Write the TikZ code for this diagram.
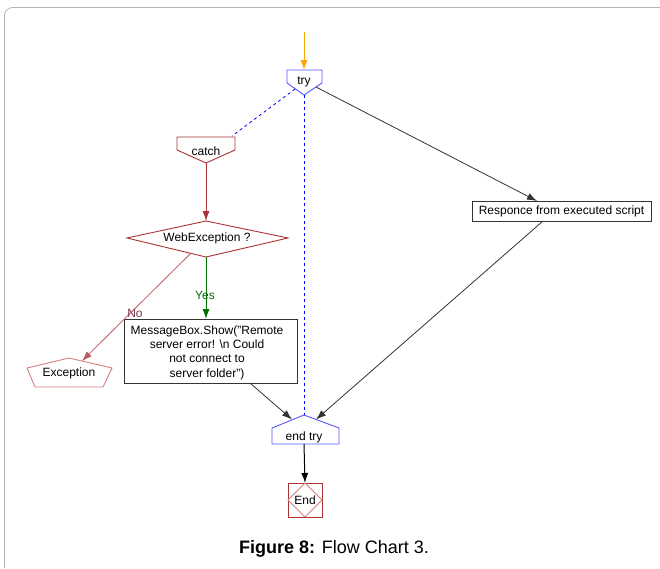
\documentclass[tikz,border=0pt]{standalone}
\usepackage{fontspec}
\setmainfont{Liberation Sans}
\usetikzlibrary{arrows.meta}
\definecolor{tryblue}{RGB}{85,85,255}
\definecolor{catchred}{RGB}{170,50,50}
\definecolor{palered}{RGB}{215,125,125}
\definecolor{yesgreen}{RGB}{0,110,0}
\definecolor{nolabel}{RGB}{120,55,80}
\definecolor{framegray}{RGB}{180,180,180}
\definecolor{startorange}{RGB}{255,165,0}

\begin{document}
\begin{tikzpicture}[x=1pt,y=-1pt,
    txt/.style={font=\fontsize{12}{14.3}\selectfont,inner sep=0pt},
    tip/.style={-{Latex[length=10pt,width=7pt]}},
    blueshape/.style={draw=tryblue,line width=0.9pt},
    redshape/.style={draw=catchred,line width=0.9pt},
    boxshape/.style={draw=black!80,line width=1pt}]
  \useasboundingbox (0,0) rectangle (660,568);
  \draw[framegray,line width=0.8pt,rounded corners=8pt] (4.5,568) -- (4.5,7.5) -- (660,7.5);

  \coordinate (start) at (304,32);
  \coordinate (try-in) at (304,70);
  \coordinate (try-out) at (304,95);
  \coordinate (try-left) at (295,89);
  \coordinate (try-right) at (316,87);
  \draw[blueshape] (287,70) -- (322,70) -- (322,83) -- (try-out) -- (287,83) -- cycle;
  \node[txt] (try) at (304,82) {try};

  \coordinate (catch-in) at (232,136);
  \coordinate (catch-out) at (206,163);
  \draw[redshape] (177,137) -- (235,137) -- (235,150) -- (catch-out) -- (177,150) -- cycle;
  \node[txt] (catch) at (206,151) {catch};

  \coordinate (web-top) at (206,221);
  \coordinate (web-bot) at (206,257);
  \coordinate (web-no) at (191,253);
  \draw[redshape] (127,238) -- (web-top) -- (288,238) -- (web-bot) -- cycle;
  \node[txt] (web) at (207,238) {WebException ?};

  \coordinate (exc-in) at (82,361);
  \draw[redshape,draw=palered] (69,358) -- (112,368) -- (103,387) -- (35,387) -- (27,368) -- cycle;
  \node[txt] (exc) at (69,373) {Exception};

  \draw[boxshape] (124,319) rectangle (297,383);
  \node[txt,align=center,font=\fontsize{12}{14.4}\selectfont] (msg) at (207,352.5)
    {MessageBox.Show("Remote\\server error! \textbackslash n Could\\not connect to\\server folder")};
  \coordinate (msg-in) at (206,319);
  \coordinate (msg-out) at (250,383);

  \draw[boxshape] (472,201) rectangle (651,221);
  \node[txt] (resp) at (561.5,211) {Responce from executed script};
  \coordinate (resp-in) at (537,201);
  \coordinate (resp-out) at (543,221);

  \coordinate (end-top) at (304,415);
  \coordinate (end-left) at (292,419.5);
  \coordinate (end-right) at (316,419.5);
  \coordinate (end-out) at (304,444);
  \draw[blueshape] (end-top) -- (339,428) -- (339,444) -- (272,444) -- (272,428) -- cycle;
  \node[txt] (endtry) at (304,437) {end try};

  \coordinate (stop-in) at (305,483);
  \draw[redshape] (288,483) rectangle (322,517);
  \draw[palered,line width=0.8pt] (305,483) -- (322,500) -- (305,517) -- (288,500) -- cycle;
  \node[txt] (stop) at (305,500) {End};

  \draw[startorange,line width=1pt,tip] (start) -- (try-in);
  \draw[blue,dashed,line width=0.8pt] (try-left) -- (catch-in);
  \draw[blue,dashed,line width=0.8pt] (try-out) -- (end-top);
  \draw[black!80,line width=0.8pt,tip] (try-right) -- (resp-in);
  \draw[catchred,line width=1pt,tip] (catch-out) -- (web-top);
  \draw[yesgreen,line width=1pt,tip] (web-bot) -- (msg-in);
  \draw[catchred!80,line width=0.8pt,tip] (web-no) -- (exc-in);
  \draw[black!80,line width=0.8pt,tip] (msg-out) -- (end-left);
  \draw[black!80,line width=0.8pt,tip] (resp-out) -- (end-right);
  \draw[black,line width=1pt,tip] (end-out) -- (stop-in);
  \node[txt,text=yesgreen] (yes) at (205,295) {Yes};
  \node[txt,text=nolabel] (no) at (135,313) {No};

  \node[font=\fontsize{18}{20}\selectfont,inner sep=0pt,anchor=base] (caption) at (334,553)
    {\textbf{Figure 8:} Flow Chart 3.};
\end{tikzpicture}
\end{document}
